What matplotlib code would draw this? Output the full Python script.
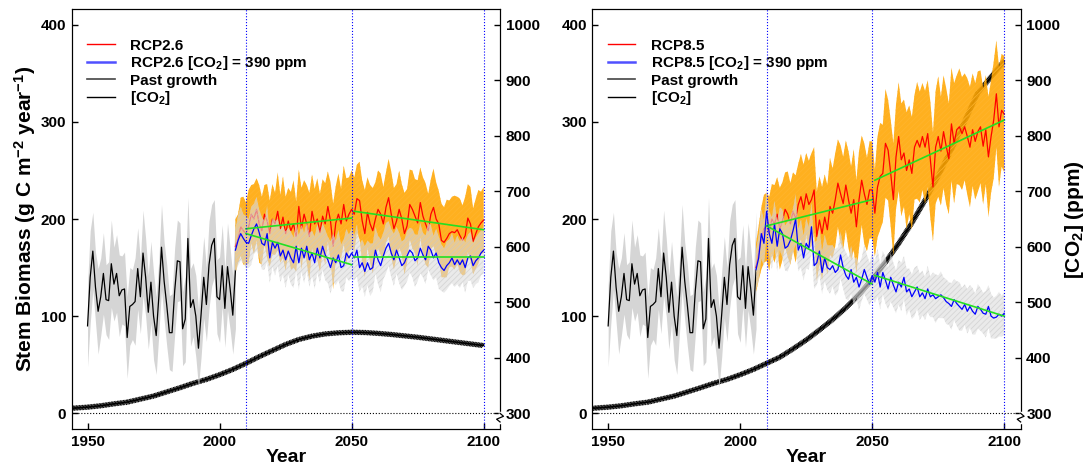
import numpy as np
import matplotlib
matplotlib.use('Agg')
import matplotlib.pyplot as plt
from matplotlib import patheffects
from matplotlib.lines import Line2D

plt.rcParams['font.family'] = ['Liberation Sans', 'DejaVu Sans']
plt.rcParams['font.weight'] = 'bold'
plt.rcParams['axes.labelweight'] = 'bold'
plt.rcParams['mathtext.default'] = 'regular'
plt.rcParams['hatch.linewidth'] = 0.6

# ---- data ----
past_years = list(range(1950, 2007))
past_growth = [
    90, 140, 167, 130, 105, 120, 144, 117, 116, 154,    # 1950s
    133, 144, 121, 127, 128, 78, 110, 112, 115, 149,    # 1960s
    120, 165, 140, 104, 135, 100, 80, 120, 171, 136,    # 1970s
    111, 83, 83, 126, 157, 156, 87, 97, 180, 109,       # 1980s
    117, 100, 67, 102, 140, 112, 153, 173, 180, 120,    # 1990s
    117, 152, 108, 151, 128, 101, 147]                  # 2000-2006
past_sd = [
    42, 48, 40, 36, 44, 40, 42, 36, 40, 45,
    38, 40, 42, 35, 38, 42, 40, 36, 45, 42,
    38, 44, 40, 38, 42, 45, 40, 38, 44, 40,
    42, 38, 40, 45, 42, 40, 38, 44, 42, 40,
    38, 42, 40, 44, 42, 38, 45, 42, 40, 38,
    44, 42, 40, 45, 42, 40, 60]

fut_years = list(range(2006, 2101))

rcp26_red = [
    172, 180, 192, 188,                                  # 2006-2009
    185, 192, 205, 200, 210, 195, 188, 205, 198, 185,    # 2010s
    200, 195, 208, 190, 202, 185, 198, 188, 195, 182,    # 2020s
    213, 190, 205, 195, 182, 208, 195, 200, 186, 203,    # 2030s
    195, 213, 198, 172, 196, 205, 195, 215, 198, 205,    # 2040s
    210, 205, 221, 219, 198, 185, 207, 195, 188, 200,    # 2050s
    210, 205, 195, 212, 222, 205, 190, 198, 210, 200,    # 2060s
    185, 193, 215, 210, 203, 196, 217, 203, 195, 188,    # 2070s
    205, 212, 200, 195, 178, 176, 180, 185, 187, 186,    # 2080s
    189, 183, 178, 183, 201, 195, 177, 185, 192, 196,    # 2090s
    199]                                                 # 2100
rcp26_red_sd = [
    28, 25, 30, 35,
    32, 38, 30, 36, 32, 40, 35, 30, 38, 34,
    36, 32, 40, 35, 42, 38, 34, 40, 45, 36,
    38, 42, 35, 40, 45, 38, 36, 42, 40, 38,
    42, 36, 40, 44, 38, 42, 36, 40, 44, 38,
    40, 38, 35, 40, 42, 45, 36, 40, 44, 38,
    40, 42, 38, 36, 40, 44, 42, 38, 40, 36,
    42, 38, 36, 40, 38, 44, 36, 40, 42, 38,
    36, 40, 38, 34, 38, 36, 40, 34, 36, 38,
    34, 38, 36, 40, 35, 38, 34, 36, 38, 32,
    34]
rcp26_blue = [
    168, 178, 185, 180,
    176, 175, 183, 190, 195, 186, 175, 173, 185, 160,
    176, 170, 176, 162, 168, 158, 167, 160, 155, 172,
    155, 170, 160, 172, 158, 165, 155, 170, 160, 172,
    163, 158, 150, 160, 155, 163, 150, 152, 165, 160,
    165, 160, 168, 150, 155, 146, 155, 148, 150, 168,
    158, 152, 162, 170, 175, 165, 158, 168, 160, 152,
    155, 162, 168, 165, 157, 160, 170, 163, 158, 172,
    168, 160, 165, 155, 150, 147, 152, 155, 160, 153,
    158, 153, 158, 150, 160, 162, 152, 157, 160, 165,
    168]
rcp26_blue_sd = [
    22, 26, 28, 25,
    27, 25, 30, 26, 28, 24, 27, 25, 29, 26,
    25, 28, 24, 27, 25, 29, 24, 27, 26, 25,
    28, 24, 26, 25, 28, 23, 27, 25, 26, 24,
    26, 24, 27, 25, 23, 26, 24, 27, 25, 24,
    26, 23, 27, 25, 24, 26, 23, 27, 25, 24,
    25, 27, 24, 26, 23, 25, 27, 24, 26, 25,
    24, 26, 23, 25, 27, 24, 26, 23, 25, 24,
    26, 23, 25, 27, 24, 23, 25, 24, 26, 23,
    25, 24, 23, 26, 24, 25, 23, 24, 25, 23,
    24]

rcp85_red = [
    150, 165, 180, 190,
    192, 185, 200, 195, 205, 190, 198, 210, 205, 195,
    208, 200, 215, 223, 210, 226, 215, 220, 230, 182,
    199, 185, 202, 189, 213, 206, 220, 237, 226, 216,
    235, 220, 206, 220, 192, 220, 240, 226, 215, 230,
    230, 206, 233, 244, 247, 278, 271, 247, 220, 264,
    285, 261, 268, 250, 261, 247, 274, 281, 274, 285,
    274, 288, 261, 233, 274, 285, 270, 290, 275, 262,
    298, 278, 292, 295, 288, 295, 285, 274, 292, 280,
    290, 295, 275, 292, 264, 285, 302, 329, 295, 312,
    308]
rcp85_red_sd = [
    25, 28, 32, 35,
    35, 38, 36, 40, 38, 42, 40, 38, 44, 42,
    40, 45, 42, 44, 46, 42, 45, 48, 44, 46,
    45, 48, 44, 46, 50, 46, 48, 45, 50, 48,
    46, 50, 48, 52, 48, 50, 46, 52, 48, 50,
    50, 45, 52, 55, 50, 56, 52, 55, 58, 54,
    56, 58, 55, 60, 56, 58, 54, 60, 57, 55,
    58, 55, 60, 56, 58, 62, 56, 58, 60, 57,
    58, 62, 56, 60, 58, 55, 60, 62, 58, 60,
    62, 58, 60, 56, 62, 58, 60, 55, 62, 58,
    60]
rcp85_blue = [
    148, 160, 185, 175,
    208, 185, 175, 195, 172, 190, 185, 170, 172, 178,
    188, 200, 168, 175, 160, 175, 170, 192, 152, 155,
    167, 145, 160, 150, 148, 152, 145, 148, 163, 150,
    142, 138, 148, 135, 140, 130, 138, 148, 140, 133,
    142, 135, 145, 130, 145, 137, 128, 140, 132, 125,
    135, 130, 140, 125, 128, 120, 125, 130, 120, 124,
    118, 128, 120, 122, 118, 120, 122, 119, 115, 113,
    110, 117, 113, 110, 107, 112, 105, 110, 105, 102,
    110, 107, 103, 102, 110, 100, 98, 99, 102, 100,
    103]
rcp85_blue_sd = [
    20, 24, 26, 24,
    25, 23, 27, 24, 26, 22, 25, 23, 26, 24,
    23, 26, 22, 25, 23, 26, 22, 25, 24, 23,
    25, 22, 24, 23, 25, 21, 24, 23, 24, 22,
    24, 22, 25, 23, 21, 24, 22, 25, 23, 22,
    24, 21, 25, 23, 22, 24, 21, 25, 23, 22,
    23, 25, 22, 24, 21, 23, 25, 22, 24, 23,
    22, 24, 21, 23, 25, 22, 24, 21, 23, 22,
    24, 21, 23, 25, 22, 21, 23, 22, 24, 21,
    23, 22, 21, 24, 22, 23, 21, 22, 23, 21,
    22]

# trend fits: 2010-2050 and 2051-2100
trend_years = [2010, 2050, 2051, 2100]
rcp26_red_trend = [190, 201, 208, 189]
rcp26_blue_trend = [185, 153, 161, 161]
rcp85_red_trend = [193, 220, 240, 302]
rcp85_blue_trend = [193, 133, 142, 100]

co2_years = [1944] + list(range(1950, 2101, 5))
co2_rcp26 = [309, 311, 313.5, 317, 320, 325.5, 331, 338.5, 346, 354, 361, 369.5,
             379, 390, 402, 413, 424, 433, 439, 443, 445, 446, 445.5, 444, 442,
             439.5, 437, 434, 431, 428, 425, 422]
co2_rcp85 = [309, 311, 313.5, 317, 320, 325.5, 331, 338.5, 346, 354, 361, 369.5,
             379, 390, 401, 416, 432, 450, 469, 490, 514, 541, 572, 606, 643,
             684, 728, 776, 826, 878, 906, 935]

period_lines = [2010, 2050, 2100]


def band(values, sd):
    v = np.array(values, dtype=float)
    s = np.array(sd, dtype=float)
    return v - s, v + s


def draw_panel(ax, name, red, red_sd, blue, blue_sd, red_trend, blue_trend, co2):
    ax2 = ax.twinx()
    ax2.set_zorder(ax.get_zorder() - 1)
    ax.patch.set_visible(False)

    # [CO2] curve, drawn with a ticked stroke so it looks like the seasonal zigzag
    co2_line, = ax2.plot(co2_years, co2, color='black', lw=1.0)
    co2_line.set_path_effects([
        patheffects.TickedStroke(spacing=1.1, angle=60, length=1.6, linewidth=0.75),
        patheffects.TickedStroke(spacing=1.1, angle=-120, length=1.6, linewidth=0.75),
        patheffects.Normal()])

    lo, hi = band(past_growth, past_sd)
    ax.fill_between(past_years, lo, hi, color='#d3d3d3', lw=0, alpha=0.95, zorder=1)
    ax.plot(past_years, past_growth, color='black', lw=0.9, zorder=2)

    lo, hi = band(red, red_sd)
    ax.fill_between(fut_years, lo, hi, facecolor='#ffa500', edgecolor='#ffb52e',
                    hatch='//////', lw=0, alpha=0.88, zorder=1)
    ax.plot(fut_years, red, color='red', lw=0.9, zorder=2)

    lo, hi = band(blue, blue_sd)
    ax.fill_between(fut_years, lo, hi, facecolor='#dcdcdc', edgecolor='#c8c8c8',
                    hatch='//////', lw=0, alpha=0.6, zorder=3)
    ax.plot(fut_years, blue, color='blue', lw=0.9, zorder=4)

    for tr in (red_trend, blue_trend):
        ax.plot(trend_years[:2], tr[:2], color='#22e022', lw=1.2, zorder=5)
        ax.plot(trend_years[2:], tr[2:], color='#22e022', lw=1.2, zorder=5)

    for yr in period_lines:
        ax.axvline(yr, color='blue', ls=':', lw=0.8, zorder=6)
    ax.axhline(0, color='black', ls=':', lw=0.8, zorder=6)

    ax.set_xlim(1944, 2106.2)
    ax.set_ylim(-16.5, 416)
    ax2.set_ylim(300 - 1.75 * 16.5, 300 + 1.75 * 416)
    ax.set_xticks([1950, 2000, 2050, 2100])
    ax.set_yticks([0, 100, 200, 300, 400])
    ax2.set_yticks([300, 400, 500, 600, 700, 800, 900, 1000])
    ax.tick_params(direction='in', length=4, width=1, labelsize=11, pad=4)
    ax2.tick_params(direction='in', length=4, width=1, labelsize=11, pad=4)
    ax.set_xlabel('Year', fontsize=14, labelpad=0)

    # axis break on right axis near 300
    ax.plot([1, 1], [0.0174, 0.038], color='white', lw=2.5, transform=ax.transAxes,
            clip_on=False, zorder=10)
    ax.plot([1, 1.008, 0.992, 1], [0.038, 0.031, 0.024, 0.0174], color='black', lw=0.9,
            transform=ax.transAxes, clip_on=False, zorder=11)

    handles = [Line2D([], [], color='red', lw=1),
               Line2D([], [], color='#5050ff', lw=1.8),
               Line2D([], [], color='#444444', lw=1.2),
               Line2D([], [], color='black', lw=1)]
    labels = [name, name + ' [CO$_2$] = 390 ppm', 'Past growth', '[CO$_2$]']
    ax.legend(handles, labels, loc='upper left', bbox_to_anchor=(0.036, 0.93),
              frameon=False, fontsize=11, handlelength=1.8, handletextpad=1.0,
              labelspacing=0.1, borderpad=0, borderaxespad=0)
    return ax2


fig = plt.figure(figsize=(10.88, 4.72), dpi=100)
ax_l = fig.add_axes([0.0659, 0.0905, 0.3937, 0.8898])
ax_r = fig.add_axes([0.5444, 0.0905, 0.3937, 0.8898])

draw_panel(ax_l, 'RCP2.6', rcp26_red, rcp26_red_sd, rcp26_blue, rcp26_blue_sd,
           rcp26_red_trend, rcp26_blue_trend, co2_rcp26)
ax_r2 = draw_panel(ax_r, 'RCP8.5', rcp85_red, rcp85_red_sd, rcp85_blue, rcp85_blue_sd,
                   rcp85_red_trend, rcp85_blue_trend, co2_rcp85)

ax_l.set_ylabel('Stem Biomass (g C m$^{-2}$ year$^{-1}$)', fontsize=15, labelpad=2)
ax_r2.set_ylabel('[CO$_2$] (ppm)', fontsize=15, labelpad=2)

fig.savefig('out.png', dpi=100)
